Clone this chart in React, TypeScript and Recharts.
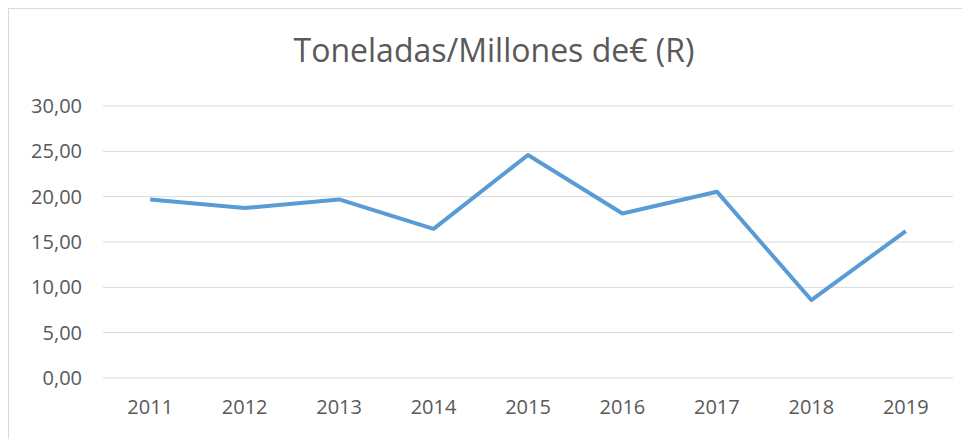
import React from "react";
import { LineChart, Line, XAxis, YAxis, CartesianGrid } from "recharts";

const years = ["2011", "2012", "2013", "2014", "2015", "2016", "2017", "2018", "2019"];
const values = [19.7, 18.75, 19.7, 16.45, 24.6, 18.15, 20.55, 8.6, 16.2];
const yTicks = [0, 5, 10, 15, 20, 25, 30];
const title = "Toneladas/Millones de€ (R)";

const data = years.map((y, i) => ({ year: y, value: values[i] }));

const FONT = "'Open Sans', 'Noto Sans', sans-serif";

export default function App() {
  return (
    <div
      style={{
        position: "relative",
        width: 962,
        height: 431,
        border: "1px solid #d9d9d9",
        borderRight: "none",
        borderBottom: "none",
        boxSizing: "border-box",
        background: "#fff",
        fontFamily: FONT,
      }}
    >
      <div
        style={{
          position: "absolute",
          left: 0,
          width: 970,
          top: 19,
          textAlign: "center",
          fontSize: 32,
          color: "#595959",
          fontFamily: FONT,
        }}
      >
        {title}
      </div>
      <LineChart
        width={960}
        height={430}
        data={data}
        margin={{ top: 97, right: 16, bottom: 21, left: 0 }}
      >
        <CartesianGrid horizontal vertical={false} stroke="#d9d9d9" strokeWidth={1} />
        <XAxis
          dataKey="year"
          scale="band"
          axisLine={false}
          tickLine={false}
          tickSize={0}
          tickMargin={22}
          height={40}
          tick={{ fill: "#595959", fontSize: 20, fontFamily: FONT }}
        />
        <YAxis
          domain={[0, 30]}
          ticks={yTicks}
          width={94}
          axisLine={false}
          tickLine={false}
          tickSize={0}
          tickMargin={21}
          tickFormatter={(v: number) => v.toFixed(2).replace(".", ",")}
          tick={{ fill: "#595959", fontSize: 20, fontFamily: FONT }}
        />
        <Line
          type="linear"
          dataKey="value"
          stroke="#5B9BD5"
          strokeWidth={4}
          dot={false}
          isAnimationActive={false}
          strokeLinejoin="round"
        />
      </LineChart>
    </div>
  );
}
